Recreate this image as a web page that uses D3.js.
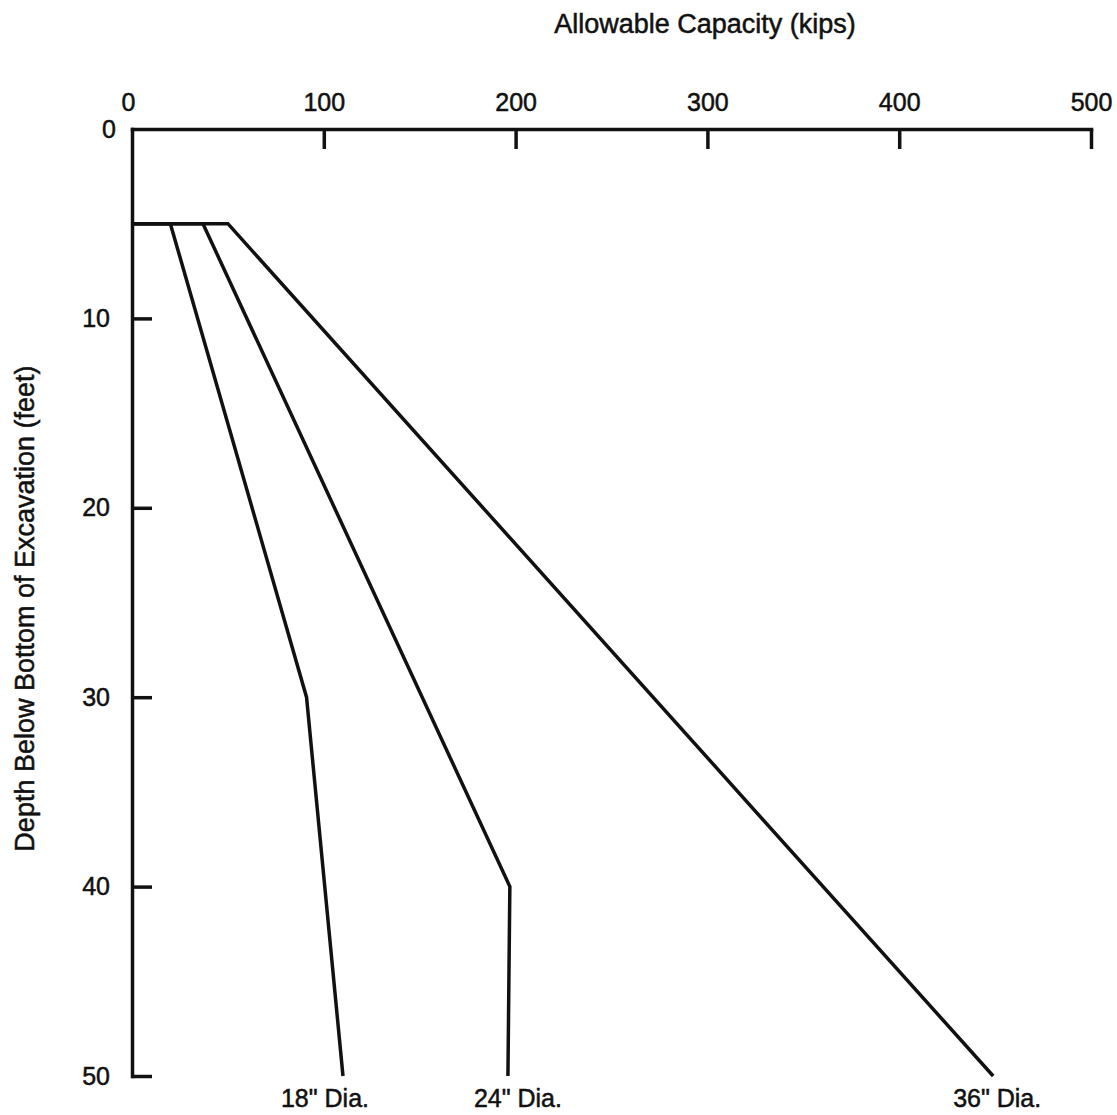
<!DOCTYPE html>
<html>
<head>
<meta charset="utf-8">
<script src="https://cdn.jsdelivr.net/npm/d3@7"></script>
<style>
  body { margin: 0; background: #fff; }
  svg text { font-family: "Liberation Sans", Arial, sans-serif; fill: #111; stroke: #111; stroke-width: 0.5; }
  .axis path, .axis line { stroke: #111; stroke-width: 3.5; }
</style>
</head>
<body>
<svg></svg>
<script>
// pile capacity curves: [capacity (kips), depth (feet)]
const pile18 = [[0, 5], [20, 5], [91, 30], [110, 50]];
const pile24 = [[0, 5], [37, 5], [197, 40], [196, 50]];
const pile36 = [[0, 5], [50, 5], [449, 50]];
const pileNames = ['18" Dia.', '24" Dia.', '36" Dia.'];
const xTicks = [0, 100, 200, 300, 400, 500];
const yTicks = [0, 10, 20, 30, 40, 50];

const SVGsize = {w: 1117, h: 1115};
const svg = d3.select('svg')
    .attr('width', SVGsize.w)
    .attr('height', SVGsize.h);

const scaleX = d3.scaleLinear().domain([0, 500]).range([132, 1091]);
const scaleY = d3.scaleLinear().domain([0, 50]).range([129, 1076]);

let axisX = d3.axisTop(scaleX)
    .tickValues(xTicks)
    .tickSizeInner(-20)
    .tickSizeOuter(0)
    .tickPadding(18);
let axisXG = svg.append('g')
    .classed('axis', true)
    .attr('transform', `translate(0, ${scaleY(0)})`)
    .call(axisX);
axisXG.selectAll('text').attr('font-size', 25);
axisXG.selectAll('.tick').filter(d => d === 0).select('line').remove();
axisXG.selectAll('.tick').filter(d => d === 0).select('text').attr('dx', -4);

let axisY = d3.axisLeft(scaleY)
    .tickValues(yTicks)
    .tickSizeInner(-20)
    .tickSizeOuter(0)
    .tickPadding(22);
let axisYG = svg.append('g')
    .classed('axis', true)
    .attr('transform', `translate(${scaleX(0)}, 0)`)
    .call(axisY);
axisYG.selectAll('text').attr('font-size', 25);
axisYG.selectAll('.tick').filter(d => d === 0).select('line').remove();
axisYG.selectAll('.tick').filter(d => d === 0).select('text').attr('dx', 6);

svg.selectAll('.axis .domain').attr('stroke-linecap', 'square');

// titles
svg.append('text')
    .attr('x', 705)
    .attr('y', 33)
    .attr('text-anchor', 'middle')
    .attr('font-size', 27)
    .text('Allowable Capacity (kips)');

svg.append('text')
    .attr('transform', `translate(34, ${scaleY(25) + 6}) rotate(-90)`)
    .attr('text-anchor', 'middle')
    .attr('font-size', 27)
    .text('Depth Below Bottom of Excavation (feet)');

// curves
const line = d3.line()
    .x(d => scaleX(d[0]))
    .y(d => scaleY(d[1]));

const piles = [pile18, pile24, pile36];
svg.selectAll('path.pile')
    .data(piles)
    .enter()
    .append('path')
    .classed('pile', true)
    .attr('d', line)
    .attr('fill', 'none')
    .attr('stroke', '#111')
    .attr('stroke-width', 3.5)
    .attr('stroke-linejoin', 'miter');

// labels under each curve end
const labelShift = [-18, 10, 4];
svg.selectAll('text.pile-label')
    .data(piles)
    .enter()
    .append('text')
    .classed('pile-label', true)
    .attr('x', (d, i) => scaleX(d[d.length - 1][0]) + labelShift[i])
    .attr('y', scaleY(50) + 31)
    .attr('text-anchor', 'middle')
    .attr('font-size', 25)
    .text((d, i) => pileNames[i]);
</script>
</body>
</html>
